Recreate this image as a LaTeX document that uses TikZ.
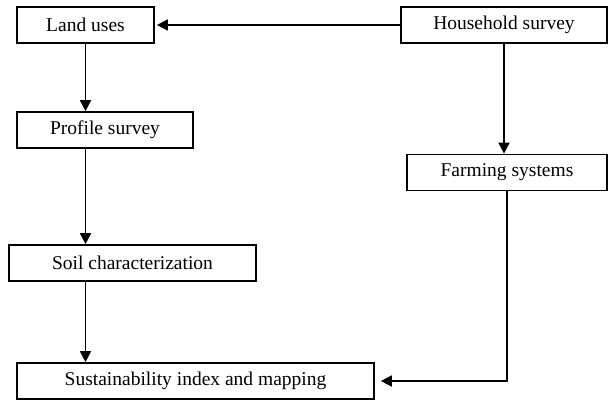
\documentclass[tikz,border=0pt]{standalone}
\usepackage{fontspec}
\setmainfont{Liberation Serif}
\usetikzlibrary{arrows.meta}
\begin{document}
\begin{tikzpicture}[x=1pt,y=-1pt,
  boxnode/.style={draw, line width=1.7pt, rectangle, minimum height=36pt, inner sep=0pt,
    font=\fontsize{19.5}{22}\selectfont},
  conn/.style={line width=1.7pt, -{Triangle[length=11pt,width=11pt]}}]
\useasboundingbox (0,0) rectangle (608,408);
\node[boxnode, minimum width=137pt] (land) at (85.5,25) {Land uses};
\node[boxnode, minimum width=206pt] (house) at (504,25) {Household survey};
\node[boxnode, minimum width=176pt] (profile) at (105,130) {Profile survey};
\node[boxnode, minimum width=200pt] (farm) at (507,172.5) {Farming systems};
\node[boxnode, minimum width=247pt] (soil) at (132.5,263) {Soil characterization};
\node[boxnode, minimum width=357pt] (sust) at (195.5,381) {Sustainability index and mapping};
\coordinate (bend) at (farm.south |- sust.east);
\draw[conn] (house.west) -- ([xshift=2pt]land.east);
\draw[conn] (land.south) -- (land.south |- profile.north);
\draw[conn] (land.south |- profile.south) -- (land.south |- soil.north);
\draw[conn] (land.south |- soil.south) -- (land.south |- sust.north);
\draw[conn] (house.south) -- (house.south |- farm.north);
\draw[conn] (farm.south) -- (bend) -- ([xshift=6pt]sust.east);
\end{tikzpicture}
\end{document}
